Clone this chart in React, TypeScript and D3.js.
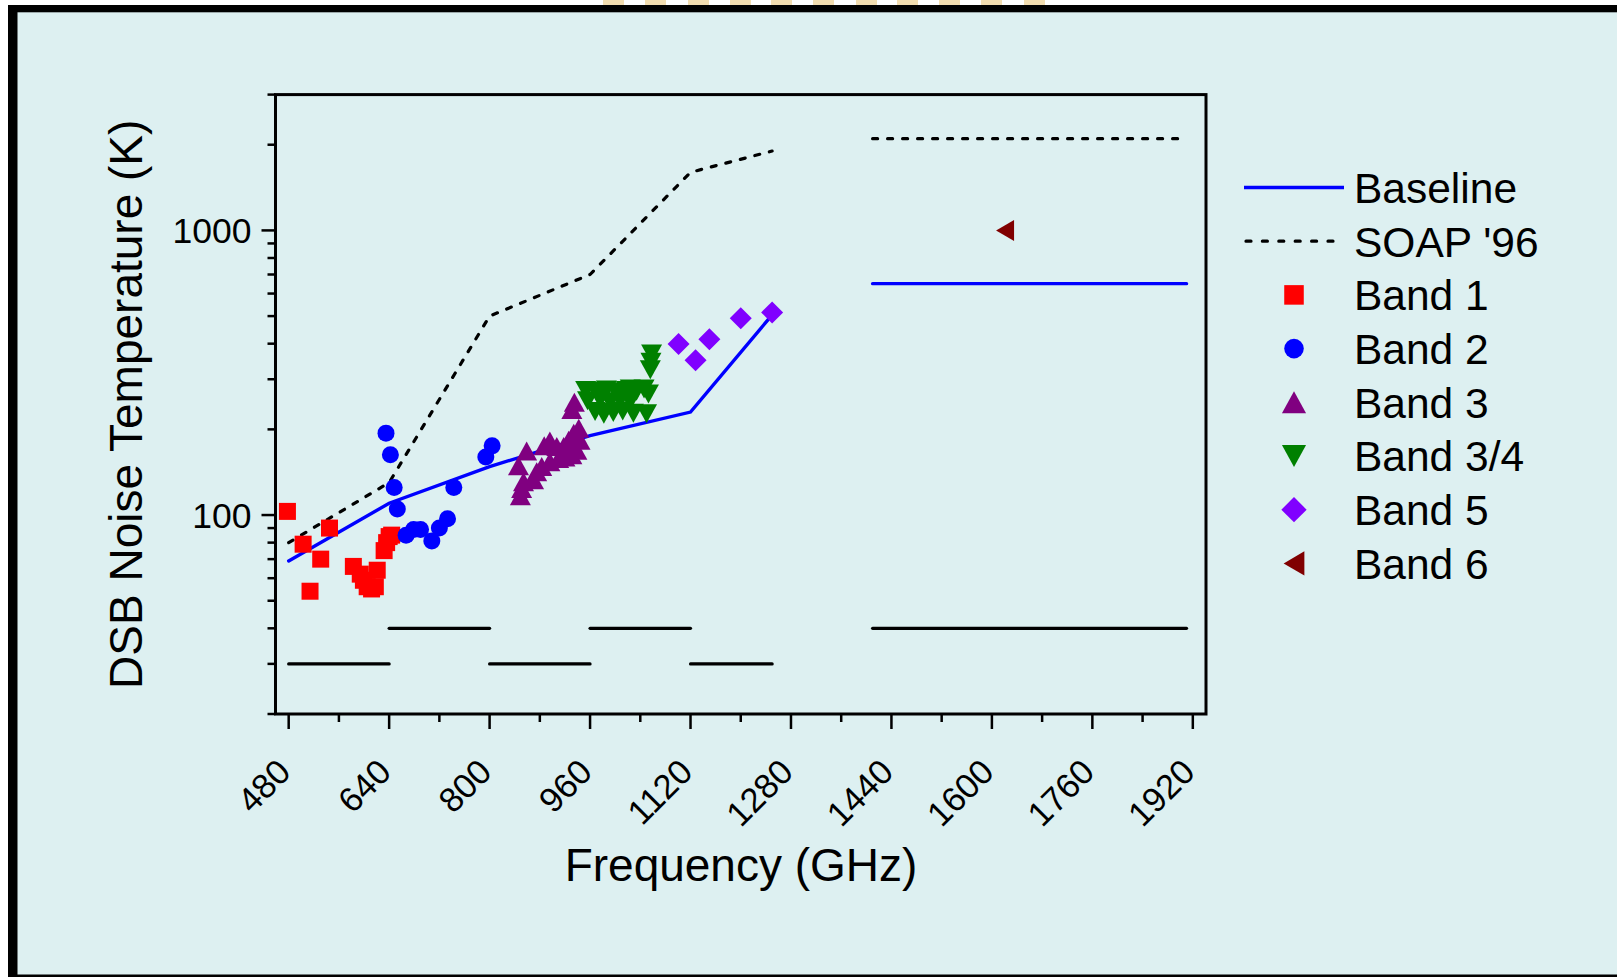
// App.tsx > NoiseChart (HIFI mixer noise temperatures vs frequency)

// react
import React from 'react';

// modules
import * as d3 from 'd3';

// page size
const W = 1617;
const H = 977;

// frequency coverage of each band (GHz) and the level of its bar (K)
const bandRanges = [[480, 640], [640, 800], [800, 960], [960, 1120], [1120, 1250], [1410, 1910]];
const bandBarLevels = [30, 40, 30, 40, 30, 40];

// baseline spec
const baselineFreq = [480, 640, 800, 960, 1120, 1250];
const baselineT = [69, 110, 148, 190, 230, 505];
const baselineHiFreq = [1410, 1910];
const baselineHiT = [650, 650];

// SOAP '96 spec
const soapFreq = [480, 640, 800, 960, 1120, 1250];
const soapT = [80, 130, 500, 700, 1600, 1900];
const soapHiFreq = [1410, 1910];
const soapHiT = [2100, 2100];

// measured points [GHz, K]
const band1 = [[478, 103], [503, 79], [514, 54], [531, 70], [545, 90], [583, 66], [594, 62], [599, 59],
    [605, 56], [612, 55], [618, 56], [621, 64], [632, 75], [636, 80], [640, 84], [644, 85]];
const band2 = [[635, 194], [642, 163], [648, 125], [653, 105], [667, 85], [679, 89], [690, 89],
    [708, 81], [720, 90], [733, 97], [743, 125], [794, 160], [804, 175]];
const band3 = [[846, 149], [849, 117], [851, 124], [854, 131], [859, 168], [870, 133], [875, 142],
    [883, 148], [887, 175], [896, 182], [896, 154], [907, 174], [910, 158], [918, 174], [920, 160],
    [926, 183], [931, 163], [934, 194], [939, 169], [942, 202], [944, 183], [931, 235], [935, 249]];
const band34 = [[953, 274], [970, 272], [986, 275], [1002, 271], [1018, 274], [1034, 272],
    [956, 252], [976, 255], [992, 250], [1008, 254], [1024, 251],
    [968, 231], [982, 226], [997, 229], [1012, 232], [1029, 228],
    [1024, 277], [1046, 277], [1053, 266], [1050, 227], [1056, 324], [1057, 344], [1058, 368]];
const band5 = [[1101, 399], [1128, 350], [1150, 415], [1200, 491], [1250, 515]];
const band6 = [[1621, 1000]];

// ticks
const xMajor = [480, 640, 800, 960, 1120, 1280, 1440, 1600, 1760, 1920];
const xMinor = [560, 720, 880, 1040, 1200, 1360, 1520, 1680, 1840];
const yMajor = [100, 1000];
const yMinor = [20, 30, 40, 50, 60, 70, 80, 90, 200, 300, 400, 500, 600, 700, 800, 900, 2000, 3000];

// legend
const legendLabels = ['Baseline', "SOAP '96", 'Band 1', 'Band 2', 'Band 3', 'Band 3/4', 'Band 5', 'Band 6'];

const FONT = '"Liberation Sans", Arial, sans-serif';

// marker specs: kind, width, height, colour
const markers = {
    b1: {kind: 'square', w: 17, h: 17, color: '#ff0000'},
    b2: {kind: 'circle', w: 17, h: 17, color: '#0000ff'},
    b3: {kind: 'up', w: 21, h: 19, color: '#800080'},
    b34: {kind: 'down', w: 21, h: 19, color: '#008000'},
    b5: {kind: 'diamond', w: 22, h: 22, color: '#8000ff'},
    b6: {kind: 'left', w: 18, h: 21, color: '#800000'},
};

const markerPath = (kind, w, h) => {
    const p = d3.path();
    const a = w / 2, b = h / 2;
    if (kind === 'square') p.rect(-a, -b, w, h);
    else if (kind === 'circle') p.arc(0, 0, a, 0, 2 * Math.PI);
    else if (kind === 'up') {p.moveTo(0, -b); p.lineTo(a, b); p.lineTo(-a, b); p.closePath();}
    else if (kind === 'down') {p.moveTo(-a, -b); p.lineTo(a, -b); p.lineTo(0, b); p.closePath();}
    else if (kind === 'diamond') {p.moveTo(0, -b); p.lineTo(a, 0); p.lineTo(0, b); p.lineTo(-a, 0); p.closePath();}
    else if (kind === 'left') {p.moveTo(-a, 0); p.lineTo(a, -b); p.lineTo(a, b); p.closePath();}
    return p.toString();
}

// decorative header strip above the frame
const headerBlocks = [603, 645, 688, 730, 771, 813, 856, 897, 939, 981, 1024];

export default function App(){
    // plot box
    const left = 275.5, right = 1206, top = 94.6, bottom = 714;

    const x = d3.scaleLinear().domain([459, 1941]).range([left, right]);
    const y = d3.scaleLog().domain([20, 3000]).range([bottom, top]);

    const line = d3.line().x((d) => x(d[0])).y((d) => y(d[1]));
    const zip = (a, b) => a.map((v, i) => [v, b[i]]);

    const series = [
        {data: band1, m: markers.b1},
        {data: band2, m: markers.b2},
        {data: band3, m: markers.b3},
        {data: band34, m: markers.b34},
        {data: band5, m: markers.b5},
        {data: band6, m: markers.b6},
    ];

    const legendX = 1244, legendY = 187.5, legendStep = 53.7;
    const legendMarkers = [markers.b1, markers.b2, markers.b3, markers.b34, markers.b5, markers.b6];

    return(
        <svg width={W} height={H} style={{position: 'absolute', left: 0, top: 0, display: 'block'}}
             fontFamily={FONT}>
            {/* page + frame */}
            <rect x={0} y={0} width={W} height={H} fill="#ffffff"/>
            {headerBlocks.map((bx) => (
                <rect key={bx} x={bx} y={0} width={21} height={6} fill="#f2ddb0"/>
            ))}
            <rect x={8} y={5} width={W - 8} height={H - 5} fill="#000000"/>
            <rect x={17.5} y={12.3} width={W - 17.5} height={974.5 - 12.3} fill="#ddf0f1"/>

            {/* axes frame */}
            <rect x={left} y={top} width={right - left} height={bottom - top}
                  fill="none" stroke="#000" strokeWidth={3}/>

            {/* x ticks */}
            {xMajor.map((t) => (
                <g key={'xM' + t}>
                    <line x1={x(t)} x2={x(t)} y1={bottom} y2={bottom + 15} stroke="#000" strokeWidth={2.5}/>
                    <text x={x(t) + 4} y={774} fontSize={34.5} textAnchor="end"
                          transform={`rotate(-45 ${x(t) + 4} 774)`}>{t}</text>
                </g>
            ))}
            {xMinor.map((t) => (
                <line key={'xm' + t} x1={x(t)} x2={x(t)} y1={bottom} y2={bottom + 8} stroke="#000" strokeWidth={2.5}/>
            ))}

            {/* y ticks */}
            {yMajor.map((t) => (
                <g key={'yM' + t}>
                    <line x1={left - 14} x2={left} y1={y(t)} y2={y(t)} stroke="#000" strokeWidth={2.5}/>
                    <text x={left - 24} y={y(t)} dy="0.36em" fontSize={35.5} textAnchor="end">{t}</text>
                </g>
            ))}
            {yMinor.map((t) => (
                <line key={'ym' + t} x1={left - 8} x2={left} y1={y(t)} y2={y(t)} stroke="#000" strokeWidth={2.5}/>
            ))}

            {/* axis titles */}
            <text x={741} y={881} fontSize={46} textAnchor="middle">Frequency (GHz)</text>
            <text transform={`translate(142, ${(top + bottom) / 2}) rotate(-90)`} fontSize={46}
                  textAnchor="middle">DSB Noise Temperature (K)</text>

            {/* band coverage bars */}
            {bandRanges.map((r, i) => (
                <line key={'bar' + i} x1={x(r[0])} x2={x(r[1])} y1={y(bandBarLevels[i])} y2={y(bandBarLevels[i])}
                      stroke="#000" strokeWidth={3.2} strokeLinecap="round"/>
            ))}

            {/* spec lines */}
            <path d={line(zip(soapFreq, soapT))} fill="none" stroke="#000" strokeWidth={3.2}
                  strokeDasharray="5 10" strokeLinecap="round"/>
            <path d={line(zip(soapHiFreq, soapHiT))} fill="none" stroke="#000" strokeWidth={3.2}
                  strokeDasharray="5 10" strokeLinecap="round"/>
            <path d={line(zip(baselineFreq, baselineT))} fill="none" stroke="#0000ff" strokeWidth={3.4}
                  strokeLinecap="round"/>
            <path d={line(zip(baselineHiFreq, baselineHiT))} fill="none" stroke="#0000ff" strokeWidth={3.4}
                  strokeLinecap="round"/>

            {/* measured points */}
            {series.map((s, si) => (
                <g key={'s' + si} fill={s.m.color}>
                    {s.data.map((d, i) => (
                        <path key={i} transform={`translate(${x(d[0])},${y(d[1])})`}
                              d={markerPath(s.m.kind, s.m.w, s.m.h)}/>
                    ))}
                </g>
            ))}

            {/* legend */}
            <g>
                <line x1={legendX} x2={legendX + 100} y1={legendY} y2={legendY} stroke="#0000ff" strokeWidth={3.4}/>
                <line x1={legendX + 2} x2={legendX + 100} y1={legendY + legendStep} y2={legendY + legendStep}
                      stroke="#000" strokeWidth={3.2} strokeDasharray="5 11.4" strokeLinecap="round"/>
                {legendMarkers.map((m, i) => (
                    <path key={'lm' + i} fill={m.color}
                          transform={`translate(1294,${legendY + legendStep * (i + 2)})`}
                          d={markerPath(m.kind, m.w * 1.15, m.h * 1.15)}/>
                ))}
                {legendLabels.map((l, i) => (
                    <text key={'ll' + i} x={1354} y={legendY + legendStep * i} dy="0.36em" fontSize={42.5}>{l}</text>
                ))}
            </g>
        </svg>
    )
}
